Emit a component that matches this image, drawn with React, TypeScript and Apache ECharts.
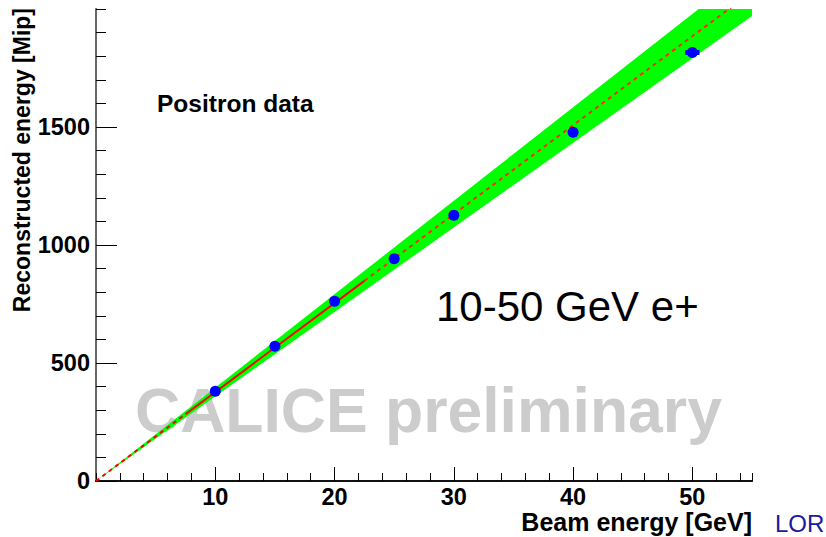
import React, { useEffect, useRef } from "react";
import * as echarts from "echarts";

// Measured data: beam energy [GeV] vs reconstructed energy [Mip]
const beamEnergy = [10, 15, 20, 25, 30, 40, 50];
const recoEnergy = [380, 571, 762, 942, 1126, 1478, 1816];
// horizontal error of the 50 GeV point
const errX50 = [49.4, 50.6];
const errY50 = [1816, 1816];

// Linear fit line, split in segments: dashed / solid (fit range) / dashed
const fitX = [0, 7.5, 22.5, 55];
const fitY = [0, 283, 848, 2073];

// Green uncertainty band
const bandX = [0, 55];
const bandLow = [0, 1970];
const bandHigh = [0, 2177];

// Axis ticks
const xMajorTicks = [10, 20, 30, 40, 50];
const yMajorTicks = [0, 500, 1000, 1500];

const FONT = "'Liberation Sans', Arial, Helvetica, sans-serif";

export default function App() {
  const ref = useRef<HTMLDivElement>(null);

  useEffect(() => {
    const chart = echarts.init(ref.current!, null, { renderer: "svg" });

    const labelStyle = {
      fontFamily: FONT,
      fontWeight: "bold" as const,
      fontSize: 23.5,
      color: "#000",
    };

    const seg = (i: number) => [
      [fitX[i], fitY[i]],
      [fitX[i + 1], fitY[i + 1]],
    ];

    chart.setOption({
      animation: false,
      backgroundColor: "#fff",
      grid: { left: 96, right: 74, top: 9, bottom: 56, containLabel: false },
      xAxis: [
        {
          // minor ticks
          type: "value",
          position: "bottom",
          min: 0,
          max: 55,
          interval: 2,
          axisLine: { show: true, lineStyle: { color: "#000", width: 1 } },
          axisTick: { show: true, inside: true, length: 8, lineStyle: { color: "#000", width: 1 } },
          axisLabel: { show: false },
          splitLine: { show: false },
        },
        {
          // major ticks + labels
          type: "value",
          position: "bottom",
          min: 0,
          max: 55,
          interval: 10,
          axisLine: { show: false },
          axisTick: {
            show: true,
            inside: true,
            length: 14,
            customValues: xMajorTicks,
            lineStyle: { color: "#000", width: 1 },
          },
          axisLabel: {
            ...labelStyle,
            margin: 4,
            customValues: xMajorTicks,
            formatter: (v: number) => String(v),
          },
          splitLine: { show: false },
        },
        {
          // top frame
          type: "value",
          position: "top",
          min: 0,
          max: 55,
          axisLine: { show: true, lineStyle: { color: "#111", width: 2 } },
          axisTick: { show: false },
          axisLabel: { show: false },
          splitLine: { show: false },
        },
      ],
      yAxis: [
        {
          type: "value",
          position: "left",
          min: 0,
          max: 2000,
          interval: 100,
          axisLine: { show: true, lineStyle: { color: "#000", width: 1 } },
          axisTick: { show: true, inside: true, length: 10, lineStyle: { color: "#000", width: 1 } },
          axisLabel: { show: false },
          splitLine: { show: false },
        },
        {
          type: "value",
          position: "left",
          min: 0,
          max: 2000,
          interval: 500,
          axisLine: { show: false },
          axisTick: {
            show: true,
            inside: true,
            length: 21,
            customValues: yMajorTicks,
            lineStyle: { color: "#000", width: 1 },
          },
          axisLabel: {
            ...labelStyle,
            margin: 6,
            customValues: yMajorTicks,
            formatter: (v: number) => String(v),
          },
          splitLine: { show: false },
        },
        {
          // right frame
          type: "value",
          position: "right",
          min: 0,
          max: 2000,
          axisLine: { show: true, lineStyle: { color: "#666", width: 2 } },
          axisTick: { show: false },
          axisLabel: { show: false },
          splitLine: { show: false },
        },
      ],
      graphic: [
        {
          type: "text",
          z: 0,
          x: 135,
          y: 410,
          silent: true,
          style: {
            text: "CALICE preliminary",
            fontFamily: FONT,
            fontWeight: "bold",
            fontSize: 62.5,
            fill: "#cccccc",
            align: "left",
            verticalAlign: "middle",
          },
        },
        {
          type: "text",
          x: 157,
          y: 103,
          style: {
            text: "Positron data",
            fontFamily: FONT,
            fontWeight: "bold",
            fontSize: 24.5,
            fill: "#000",
            align: "left",
            verticalAlign: "middle",
          },
        },
        {
          type: "text",
          x: 436,
          y: 306,
          style: {
            text: "10-50 GeV e+",
            fontFamily: FONT,
            fontSize: 42,
            fill: "#000",
            align: "left",
            verticalAlign: "middle",
          },
        },
        {
          type: "text",
          x: 22,
          y: 8,
          rotation: Math.PI / 2,
          style: {
            text: "Reconstructed energy [Mip]",
            fontFamily: FONT,
            fontWeight: "bold",
            fontSize: 23,
            fill: "#000",
            align: "right",
            verticalAlign: "middle",
          },
        },
        {
          type: "text",
          x: 752,
          y: 522,
          style: {
            text: "Beam energy [GeV]",
            fontFamily: FONT,
            fontWeight: "bold",
            fontSize: 25,
            fill: "#000",
            align: "right",
            verticalAlign: "middle",
          },
        },
        {
          type: "text",
          x: 775,
          y: 523,
          style: {
            text: "LOR",
            fontFamily: FONT,
            fontSize: 24,
            fill: "#1a1a9e",
            align: "left",
            verticalAlign: "middle",
          },
        },
      ],
      series: [
        {
          name: "band",
          type: "custom",
          silent: true,
          z: 1,
          data: [0],
          renderItem: (params: any, api: any) => {
            const upper = bandX.map((x, i) => api.coord([x, bandHigh[i]]));
            const lower = bandX.map((x, i) => api.coord([x, bandLow[i]])).reverse();
            const cs = params.coordSys;
            return {
              type: "group",
              clipPath: {
                type: "rect",
                shape: { x: cs.x, y: cs.y, width: cs.width, height: cs.height },
              },
              children: [
                {
                  type: "polygon",
                  shape: { points: [...upper, ...lower] },
                  style: { fill: "#00ff00", stroke: "none" },
                },
              ],
            };
          },
        },
        {
          name: "fitDash1",
          type: "line",
          symbol: "none",
          silent: true,
          lineStyle: { color: "#ff0000", width: 2, type: [4, 4] },
          data: seg(0),
          z: 3,
        },
        {
          name: "fitSolid",
          type: "line",
          symbol: "none",
          silent: true,
          lineStyle: { color: "#ff0000", width: 2, type: "solid" },
          data: seg(1),
          z: 3,
        },
        {
          name: "fitDash2",
          type: "line",
          symbol: "none",
          silent: true,
          lineStyle: { color: "#ff2a00", width: 2, type: [4, 4] },
          data: seg(2),
          z: 3,
        },
        {
          name: "err50",
          type: "line",
          symbol: "none",
          silent: true,
          lineStyle: { color: "#0000ff", width: 5 },
          data: errX50.map((x, i) => [x, errY50[i]]),
          z: 4,
        },
        {
          name: "data",
          type: "scatter",
          symbol: "circle",
          symbolSize: 11,
          itemStyle: { color: "#0000ff", opacity: 1 },
          data: beamEnergy.map((x, i) => [x, recoEnergy[i]]),
          z: 5,
        },
      ],
    });

    return () => chart.dispose();
  }, []);

  return (
    <div
      ref={ref}
      style={{
        position: "fixed",
        left: 0,
        top: 0,
        width: 826,
        height: 537,
        background: "#fff",
      }}
    />
  );
}
